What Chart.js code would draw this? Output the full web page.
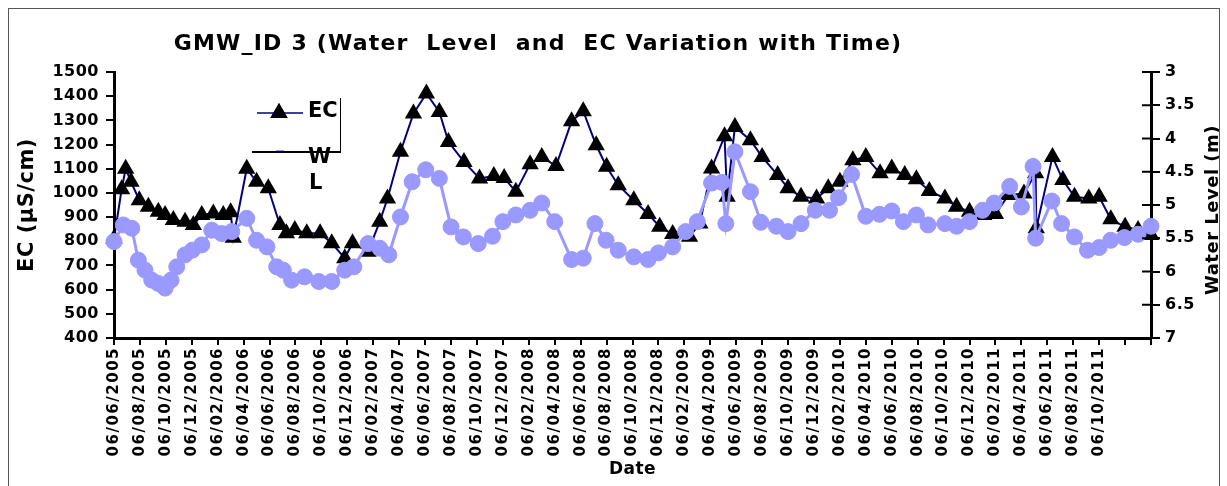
<!DOCTYPE html>
<html>
<head>
<meta charset="utf-8">
<script src="https://cdn.jsdelivr.net/npm/chart.js@4.4.1/dist/chart.umd.min.js"></script>
<style>
  html, body { margin: 0; padding: 0; background: #fff; }
</style>
</head>
<body>
<canvas id="chart" width="1227" height="486"></canvas>
<script>
// x values are months since 06/06/2005
const tickLabels = [
  "06/06/2005", "06/08/2005", "06/10/2005", "06/12/2005",
  "06/02/2006", "06/04/2006", "06/06/2006", "06/08/2006", "06/10/2006", "06/12/2006",
  "06/02/2007", "06/04/2007", "06/06/2007", "06/08/2007", "06/10/2007", "06/12/2007",
  "06/02/2008", "06/04/2008", "06/06/2008", "06/08/2008", "06/10/2008", "06/12/2008",
  "06/02/2009", "06/04/2009", "06/06/2009", "06/08/2009", "06/10/2009", "06/12/2009",
  "06/02/2010", "06/04/2010", "06/06/2010", "06/08/2010", "06/10/2010", "06/12/2010",
  "06/02/2011", "06/04/2011", "06/06/2011", "06/08/2011", "06/10/2011"
];

const ecMonths = [0, 0.59, 0.9, 1.31, 1.95, 2.65, 3.42, 3.94, 4.58, 5.48, 6.12, 6.77, 7.66, 8.43, 9.0,
  9.2, 10.24, 11.0, 11.9, 12.8, 13.3, 13.95, 14.87, 15.9, 16.8, 17.8, 18.4, 19.6, 20.5, 21.1,
  22.1, 23.1, 24.1, 25.1, 25.8, 27.0, 28.2, 29.3, 30.1, 31.0, 32.1, 33.0, 34.1, 35.3, 36.2,
  37.2, 38.0, 38.9, 40.1, 41.2, 42.1, 43.1, 44.4, 45.2, 46.1, 47.1, 47.3, 47.9, 49.1, 50.0,
  51.2, 52.0, 53.0, 54.2, 55.1, 56.0, 57.0, 58.0, 59.1, 60.0, 61.0, 61.9, 62.9, 64.1, 65.0,
  66.0, 67.1, 68.0, 69.0, 70.2, 71.1, 71.15, 72.4, 73.2, 74.1, 75.2, 76.0, 76.9, 78.0, 79.0, 80.0];
const ecValues = [810, 1015, 1100, 1046, 970, 943, 922, 909, 888, 881, 867, 909, 915, 909, 920,
  815, 1100, 1046, 1019, 867, 833, 847, 833, 833, 792, 730, 792, 757, 881, 977,
  1170, 1328, 1411, 1335, 1211, 1128, 1060, 1070, 1062, 1005, 1119, 1149, 1111, 1296, 1338,
  1197, 1108, 1032, 970, 913, 860, 830, 819, 874, 1101, 1234, 984, 1273, 1218, 1149,
  1074, 1019, 984, 977, 1019, 1046, 1135, 1149, 1081, 1101, 1074, 1056, 1008, 977, 943,
  922, 909, 913, 991, 998, 1081, 854, 1149, 1053, 984, 977, 984, 891, 860, 847, 826];

const wlMonths = [0, 0.72, 1.37, 1.88, 2.39, 2.91, 3.42, 3.94, 4.40, 4.84, 5.48, 6.04, 6.77, 7.54, 8.31,
  9.08, 10.24, 11.0, 11.8, 12.55, 13.06, 13.7, 14.7, 15.8, 16.8, 17.8, 18.5, 19.6, 20.5, 21.2,
  22.1, 23.0, 24.05, 25.1, 26.0, 26.95, 28.1, 29.2, 30.0, 31.0, 32.1, 33.0, 34.0, 35.3, 36.2,
  37.1, 37.96, 38.9, 40.1, 41.2, 42.0, 43.1, 44.1, 45.0, 46.1, 46.9, 47.2, 47.9, 49.1, 49.9,
  51.1, 52.0, 53.0, 54.1, 55.2, 55.9, 56.9, 58.0, 59.05, 60.0, 60.9, 61.9, 62.8, 64.1, 65.0,
  66.0, 67.0, 67.9, 69.1, 70.0, 70.9, 71.1, 72.35, 73.1, 74.1, 75.1, 76.0, 76.9, 77.95, 79.0, 80.0];
const wlValues = [5.55, 5.30, 5.35, 5.83, 5.98, 6.13, 6.18, 6.25, 6.13, 5.93, 5.75, 5.68, 5.60, 5.38, 5.43,
  5.40, 5.20, 5.53, 5.63, 5.93, 5.98, 6.13, 6.08, 6.15, 6.15, 5.98, 5.93, 5.58, 5.65, 5.75,
  5.18, 4.65, 4.47, 4.60, 5.33, 5.48, 5.58, 5.47, 5.25, 5.15, 5.08, 4.97, 5.25, 5.82, 5.80,
  5.28, 5.53, 5.68, 5.78, 5.82, 5.72, 5.63, 5.40, 5.25, 4.67, 4.66, 5.28, 4.20, 4.80, 5.26,
  5.32, 5.40, 5.28, 5.08, 5.08, 4.89, 4.54, 5.17, 5.14, 5.09, 5.25, 5.15, 5.30, 5.28, 5.32,
  5.25, 5.08, 4.97, 4.72, 5.03, 4.42, 5.50, 4.94, 5.28, 5.48, 5.68, 5.64, 5.53, 5.49, 5.44, 5.32];

const FONT = "'DejaVu Sans', sans-serif";
const titleText = "GMW_ID 3 (Water  Level  and  EC Variation with Time)";

// extra drawing: title, right axis title, odd legend box, frame
const chartDecor = {
  id: "chartDecor",
  beforeDraw(chart) {
    chart.ctx.letterSpacing = "0.5px";
  },
  afterDatasetsDraw(chart) {
    // x tick labels are drawn after this (ticks.z = 1)
    chart.ctx.letterSpacing = "1.5px";
  },
  afterDraw(chart) {
    const c = chart.ctx;
    c.save();
    c.fillStyle = "#000";
    c.textBaseline = "middle";

    c.letterSpacing = "1.2px";
    c.font = `bold 22px ${FONT}`;
    c.textAlign = "center";
    c.fillText(titleText, 538, 44);

    c.letterSpacing = "0.5px";
    c.save();
    c.translate(1213, 210);
    c.rotate(-Math.PI / 2);
    c.font = `bold 18px ${FONT}`;
    c.fillText("Water Level (m)", 0, 0);
    c.restore();

    // right axis ticks also cross into the plot
    const y2 = chart.scales.y2;
    c.strokeStyle = "#000";
    c.lineWidth = 2;
    y2.ticks.forEach((t, i) => {
      const py = y2.getPixelForTick(i);
      c.beginPath();
      c.moveTo(y2.left - 9, py);
      c.lineTo(y2.left, py);
      c.stroke();
    });

    // legend
    c.strokeStyle = "#9999ff";
    c.lineWidth = 2;
    c.beginPath();
    c.moveTo(276, 151);
    c.lineTo(284, 151);
    c.stroke();
    c.strokeStyle = "#000080";
    c.lineWidth = 1.5;
    c.beginPath();
    c.moveTo(257, 113);
    c.lineTo(303, 113);
    c.stroke();
    Chart.helpers.drawPoint(c, { pointStyle: "triangle", radius: 10, borderWidth: 0 }, 279, 113);
    c.fillStyle = "#000";
    c.fill();
    c.strokeStyle = "#000";
    c.lineWidth = 1;
    c.beginPath();
    c.moveTo(340.5, 98);
    c.lineTo(340.5, 152);
    c.stroke();
    c.lineWidth = 2;
    c.beginPath();
    c.moveTo(252, 152);
    c.lineTo(341, 152);
    c.stroke();
    c.letterSpacing = "0px";
    c.font = `bold 21px ${FONT}`;
    c.textAlign = "left";
    c.fillText("EC", 308, 112);
    c.fillText("W", 308, 158);
    c.fillText("L", 309, 184);

    // outer frame
    c.strokeStyle = "#555";
    c.lineWidth = 1;
    c.strokeRect(8.5, 8.5, 1211, 490);
    c.restore();
    c.letterSpacing = "0px";
  }
};

const ctx = document.getElementById("chart").getContext("2d");
new Chart(ctx, {
  type: "line",
  data: {
    datasets: [
      {
        label: "WL",
        data: wlMonths.map((m, i) => ({ x: m, y: wlValues[i] })),
        yAxisID: "y2",
        borderColor: "#9999ff",
        backgroundColor: "#9999ff",
        borderWidth: 3,
        pointStyle: "circle",
        pointRadius: 8,
        pointBorderWidth: 1,
        pointBorderColor: "#9999ff",
        pointBackgroundColor: "#9999ff",
        tension: 0,
        clip: false,
      },
      {
        label: "EC",
        data: ecMonths.map((m, i) => ({ x: m, y: ecValues[i] })),
        yAxisID: "y",
        borderColor: "#000080",
        backgroundColor: "#000000",
        borderWidth: 2,
        pointStyle: "triangle",
        pointRadius: 10,
        pointBorderWidth: 0,
        pointBackgroundColor: "#000000",
        tension: 0,
        clip: false,
      },
    ],
  },
  options: {
    responsive: false,
    animation: false,
    devicePixelRatio: 1,
    events: [],
    layout: { padding: { left: 10, right: 4, top: 72, bottom: 0 } },
    plugins: {
      legend: { display: false },
      tooltip: { enabled: false },
      title: { display: false },
    },
    scales: {
      x: {
        type: "linear",
        min: 0,
        max: 80,
        ticks: {
          stepSize: 2,
          autoSkip: false,
          maxRotation: 90,
          minRotation: 90,
          padding: 2,
          z: 1,
          color: "#000",
          font: { family: FONT, size: 15, weight: "bold" },
          callback: (v, i) => tickLabels[i] || "",
        },
        grid: { drawOnChartArea: false, tickLength: 7, color: "#000", lineWidth: 2 },
        border: { color: "#000", width: 3 },
        title: {
          display: true,
          text: "Date",
          color: "#000",
          font: { family: FONT, size: 17, weight: "bold" },
          padding: { top: 0, bottom: 6 },
        },
        afterFit: (s) => { s.height = 148; },
      },
      y: {
        position: "left",
        min: 400,
        max: 1500,
        ticks: {
          stepSize: 100,
          padding: 7,
          color: "#000",
          font: { family: FONT, size: 16, weight: "bold" },
          callback: (v) => String(v),
        },
        grid: { drawOnChartArea: false, tickLength: 8, color: "#000", lineWidth: 2 },
        border: { color: "#000", width: 3 },
        title: {
          display: true,
          text: "EC (µS/cm)",
          color: "#000",
          font: { family: FONT, size: 21, weight: "bold" },
          padding: { top: 5 },
        },
        afterFit: (s) => { s.width = 104; },
      },
      y2: {
        position: "right",
        reverse: true,
        min: 3,
        max: 7,
        ticks: {
          stepSize: 0.5,
          padding: 5,
          color: "#000",
          font: { family: FONT, size: 16, weight: "bold" },
          callback: (v) => String(v),
        },
        grid: { drawOnChartArea: false, tickLength: 9, color: "#000", lineWidth: 2 },
        border: { color: "#000", width: 3 },
        afterFit: (s) => { s.width = 72; },
      },
    },
  },
  plugins: [chartDecor],
});
</script>
</body>
</html>
